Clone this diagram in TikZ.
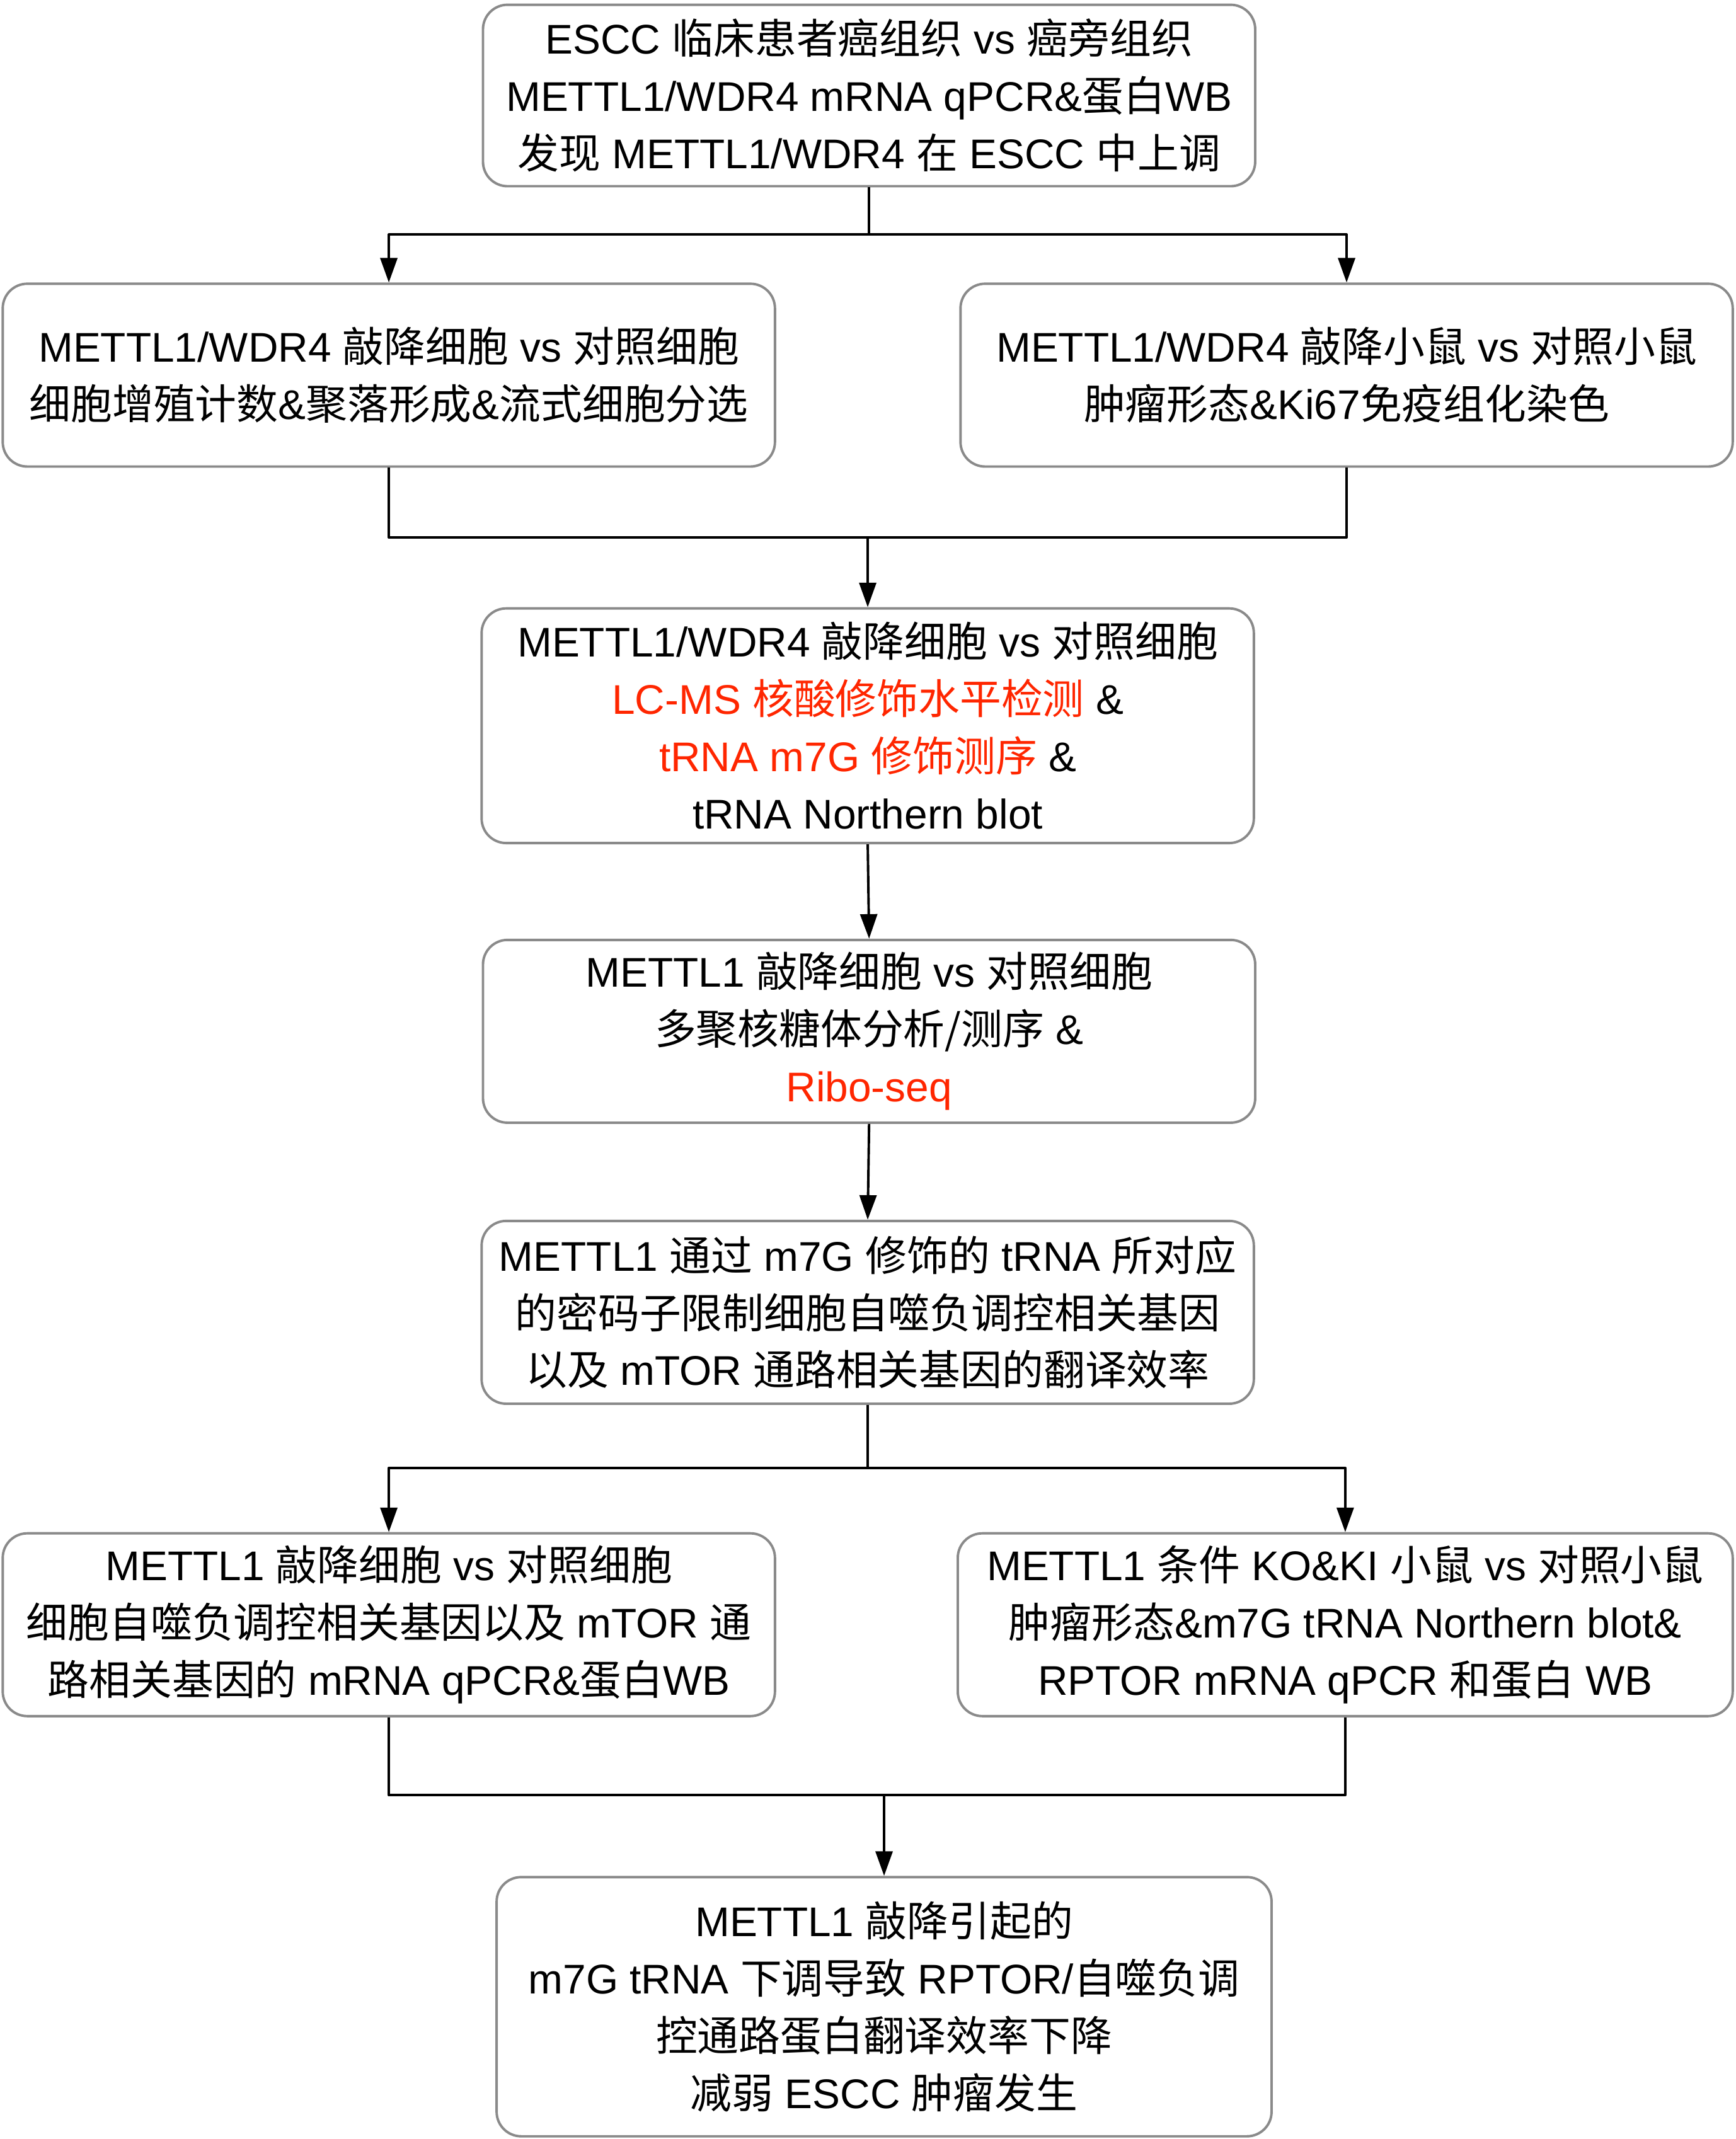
\documentclass[tikz,border=0pt]{standalone}
\usepackage{fontspec}
\setmainfont{Liberation Sans}
\newfontfamily\cjk{Noto Sans CJK SC}
\usepackage{xcolor}
\definecolor{hlred}{HTML}{FF2600}
\definecolor{boxgray}{HTML}{8A8A8A}
\usetikzlibrary{arrows.meta,positioning}
\newcommand{\zh}[1]{{\cjk #1}}
\tikzset{
  >={Triangle[length=9pt,width=6.2pt]},
  every picture/.style={line join=round},
  stagebox/.style={draw=boxgray, line width=0.9pt, rounded corners=9pt,
    align=center, inner sep=0pt, font=\fontsize{15.2}{21}\selectfont,
    minimum width=283pt, minimum height=67pt},
  link/.style={black, line width=0.9pt},
}
\begin{document}
\begin{tikzpicture}[x=0.5pt, y=-0.5pt]
\useasboundingbox (0,0) rectangle (1272,1568);
% ------------------------------------------------------------- clinical
\node[stagebox, minimum height=66.5pt] (clinic) at (637,70)
  {ESCC \zh{临床患者癌组织} vs \zh{癌旁组织}\\
   METTL1/WDR4 mRNA qPCR\&\zh{蛋白}WB\\
   \zh{发现} METTL1/WDR4 \zh{在} ESCC \zh{中上调}};
% ------------------------------------------------------------- knock-down
\node[stagebox] (kdcell) at (285,275)
  {METTL1/WDR4 \zh{敲降细胞} vs \zh{对照细胞}\\
   \zh{细胞增殖计数}\&\zh{聚落形成}\&\zh{流式细胞分选}};
\node[stagebox] (kdmouse) at (987,275)
  {METTL1/WDR4 \zh{敲降小鼠} vs \zh{对照小鼠}\\
   \zh{肿瘤形态}\&Ki67\zh{免疫组化染色}};
% ------------------------------------------------------------- modification
\node[stagebox, minimum height=86pt] (modif) at (636,532)
  {METTL1/WDR4 \zh{敲降细胞} vs \zh{对照细胞}\\
   \textcolor{hlred}{LC-MS \zh{核酸修饰水平检测}} \&\\
   \textcolor{hlred}{tRNA m7G \zh{修饰测序}} \&\\
   tRNA Northern blot};
\node[stagebox] (ribo) at (637,756)
  {METTL1 \zh{敲降细胞} vs \zh{对照细胞}\\
   \zh{多聚核糖体分析/测序} \&\\
   \textcolor{hlred}{Ribo-seq}};
\node[stagebox] (mech) at (636,962)
  {METTL1 \zh{通过} m7G \zh{修饰的} tRNA \zh{所对应}\\
   \zh{的密码子限制细胞自噬负调控相关基因}\\
   \zh{以及} mTOR \zh{通路相关基因的翻译效率}};
% ------------------------------------------------------------- validation
\node[stagebox] (valcell) at (285,1191)
  {METTL1 \zh{敲降细胞} vs \zh{对照细胞}\\
   \zh{细胞自噬负调控相关基因以及} mTOR \zh{通}\\
   \zh{路相关基因的} mRNA qPCR\&\zh{蛋白}WB};
\node[stagebox, minimum width=284pt] (valmouse) at (986,1191)
  {METTL1 \zh{条件} KO\&KI \zh{小鼠} vs \zh{对照小鼠}\\
   \zh{肿瘤形态}\&m7G tRNA Northern blot\&\\
   RPTOR mRNA qPCR \zh{和蛋白} WB};
\node[stagebox, minimum width=284pt, minimum height=95pt] (concl) at (648,1471)
  {METTL1 \zh{敲降引起的}\\
   m7G tRNA \zh{下调导致} RPTOR/\zh{自噬负调}\\
   \zh{控通路蛋白翻译效率下降}\\
   \zh{减弱} ESCC \zh{肿瘤发生}};
% ------------------------------------------------------------- connectors
\coordinate (split1) at (637,172);
\coordinate (merge1) at (636,394);
\coordinate (split2) at (636,1076);
\coordinate (merge2) at (648,1316);
\draw[link] (clinic.south) -- (split1);
\draw[link, ->] (split1) -| (kdcell.north);
\draw[link, ->] (split1) -| (kdmouse.north);
\draw[link] (kdcell.south) |- (merge1) -| (kdmouse.south);
\draw[link, ->] (merge1) -- (modif.north);
\draw[link, ->] (modif.south) -- (ribo.north);
\draw[link, ->] (ribo.south) -- (mech.north);
\draw[link] (mech.south) -- (split2);
\draw[link, ->] (split2) -| (valcell.north);
\draw[link, ->] (split2) -| (valmouse.north);
\draw[link] (valcell.south) |- (merge2) -| (valmouse.south);
\draw[link, ->] (merge2) -- (concl.north);
\end{tikzpicture}
\end{document}
